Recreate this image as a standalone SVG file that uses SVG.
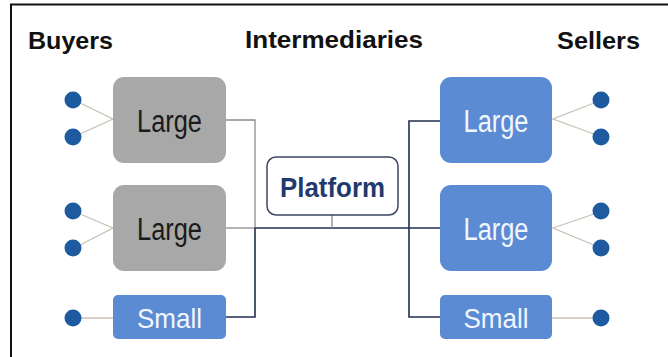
<svg xmlns="http://www.w3.org/2000/svg" width="668" height="357" viewBox="0 0 668 357">
  <style>
    .hdr { font-family: "Liberation Sans", Arial, sans-serif; font-weight: bold; font-size: 24px; fill: #111; }
    .lbl { font-family: "Liberation Sans", Arial, sans-serif; font-size: 31px; text-anchor: middle; }
    .lbl-s { font-family: "Liberation Sans", Arial, sans-serif; font-size: 28px; text-anchor: middle; fill: #f2f6ff; }
    .grey { fill: #a8a8a8; }
    .blue { fill: #5b8bd3; }
    .dot { fill: #1e5aa0; }
    .spoke { stroke: #c9c0b4; stroke-width: 1.3; fill: none; }
    .wire-g { stroke: #8c8c8c; stroke-width: 1.3; fill: none; }
    .wire-d { stroke: #1f2f4f; stroke-width: 1.6; fill: none; }
  </style>

  <rect width="668" height="357" fill="#ffffff"/>
  <!-- frame edges -->
  <path d="M10 4.5 H668 M11 4 V357" stroke="#111" stroke-width="2" fill="none"/>

  <!-- column headings -->
  <text class="hdr" x="28" y="49" textLength="85" lengthAdjust="spacingAndGlyphs">Buyers</text>
  <text class="hdr" x="245" y="48" textLength="178" lengthAdjust="spacingAndGlyphs">Intermediaries</text>
  <text class="hdr" x="557" y="49" textLength="83" lengthAdjust="spacingAndGlyphs">Sellers</text>

  <!-- connectors -->
  <g id="connectors">
    <!-- spokes from end points to boxes -->
    <path class="spoke" d="M80 103 L113 119 L80 134"/>
    <path class="spoke" d="M80 214 L113 228 L80 245"/>
    <path class="spoke" d="M80 318 H113"/>
    <path class="spoke" d="M594 103 L553 119 L594 134"/>
    <path class="spoke" d="M594 214 L553 228 L594 245"/>
    <path class="spoke" d="M552 318 H594"/>
    <!-- buyer side bus -->
    <path class="wire-g" d="M226 120 H255 V228"/>
    <path class="wire-g" d="M226 228 H255"/>
    <path class="wire-d" d="M226 317 H255 V228"/>
    <!-- main trunk -->
    <path class="wire-d" d="M255 228 H440"/>
    <path class="wire-g" d="M332 215 V228"/>
    <!-- seller side bus -->
    <path class="wire-d" d="M440 121 H409 V317 H440"/>
  </g>

  <!-- buyers -->
  <g id="buyer-large-1">
    <circle class="dot" cx="73" cy="100" r="8.5"/>
    <circle class="dot" cx="73" cy="137" r="8.5"/>
    <rect class="grey" x="113" y="77" width="113" height="86" rx="11"/>
    <text class="lbl" x="169.5" y="132" fill="#1a1a1a" textLength="65" lengthAdjust="spacingAndGlyphs">Large</text>
  </g>
  <g id="buyer-large-2">
    <circle class="dot" cx="73" cy="211" r="8.5"/>
    <circle class="dot" cx="73" cy="248" r="8.5"/>
    <rect class="grey" x="113" y="185" width="113" height="86" rx="11"/>
    <text class="lbl" x="169.5" y="240" fill="#1a1a1a" textLength="65" lengthAdjust="spacingAndGlyphs">Large</text>
  </g>
  <g id="buyer-small">
    <circle class="dot" cx="73" cy="318" r="8.5"/>
    <rect class="blue" x="113" y="295" width="113" height="44" rx="5"/>
    <text class="lbl-s" x="169.5" y="328" textLength="65" lengthAdjust="spacingAndGlyphs">Small</text>
  </g>

  <!-- intermediary -->
  <g id="platform">
    <rect x="267" y="157" width="131" height="58" rx="9" fill="#ffffff" stroke="#3a4660" stroke-width="1.5"/>
    <text x="332.5" y="197" font-family="Liberation Sans, Arial, sans-serif" font-weight="bold" font-size="28" fill="#1f3a6c" text-anchor="middle" textLength="105" lengthAdjust="spacingAndGlyphs">Platform</text>
  </g>

  <!-- sellers -->
  <g id="seller-large-1">
    <rect class="blue" x="440" y="77" width="112" height="86" rx="11"/>
    <text class="lbl" x="496" y="132" fill="#f2f6ff" textLength="65" lengthAdjust="spacingAndGlyphs">Large</text>
    <circle class="dot" cx="601" cy="100" r="8.5"/>
    <circle class="dot" cx="601" cy="137" r="8.5"/>
  </g>
  <g id="seller-large-2">
    <rect class="blue" x="440" y="185" width="112" height="86" rx="11"/>
    <text class="lbl" x="496" y="240" fill="#f2f6ff" textLength="65" lengthAdjust="spacingAndGlyphs">Large</text>
    <circle class="dot" cx="601" cy="211" r="8.5"/>
    <circle class="dot" cx="601" cy="248" r="8.5"/>
  </g>
  <g id="seller-small">
    <rect class="blue" x="440" y="295" width="112" height="44" rx="5"/>
    <text class="lbl-s" x="496" y="328" textLength="65" lengthAdjust="spacingAndGlyphs">Small</text>
    <circle class="dot" cx="601" cy="318" r="8.5"/>
  </g>
</svg>
